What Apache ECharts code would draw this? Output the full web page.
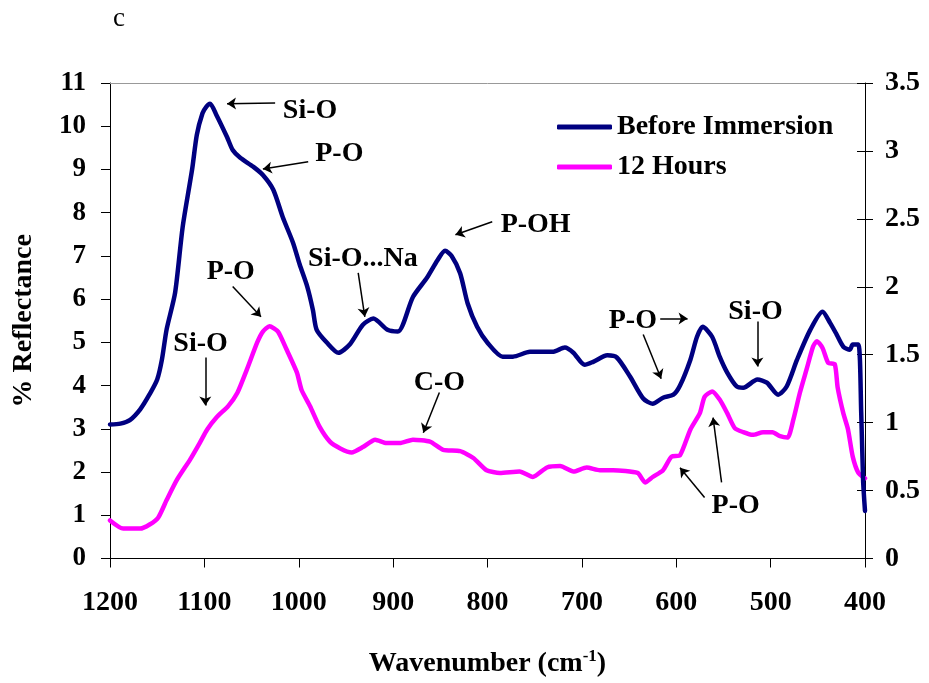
<!DOCTYPE html>
<html>
<head>
<meta charset="utf-8">
<script src="https://cdn.jsdelivr.net/npm/echarts@6/dist/echarts.min.js"></script>
<style>
  html, body { margin: 0; padding: 0; background: #fff; }
  #chart { width: 929px; height: 683px; }
</style>
</head>
<body>
<div id="chart"></div>
<script>
// FTIR reflectance spectra, wavenumber in cm-1
const wnBefore = [1200, 1189, 1179, 1168, 1158, 1150, 1145, 1140, 1131, 1123, 1113, 1108, 1102, 1098, 1094,
  1087, 1076, 1070, 1062, 1048, 1038, 1027, 1017, 1006, 999, 991, 985, 981, 970, 958, 946, 932, 921, 906, 895,
  879, 864, 853, 845, 838, 829, 821, 811, 800, 784, 773, 755, 731, 718, 709, 697, 688, 673, 663, 649, 635, 625,
  614, 603, 596, 585, 578, 572, 562, 554, 546, 536, 529, 514, 504, 492, 483, 472, 458, 445, 437, 430, 423, 416,
  413, 407, 404, 402, 400];
const before = [3.10, 3.12, 3.20, 3.45, 3.80, 4.14, 4.60, 5.30, 6.15, 7.67, 9.00, 9.80, 10.30, 10.45, 10.52,
  10.25, 9.75, 9.45, 9.27, 9.06, 8.87, 8.53, 7.90, 7.30, 6.80, 6.29, 5.75, 5.29, 4.99, 4.76, 4.95, 5.41, 5.55,
  5.29, 5.25, 6.05, 6.50, 6.90, 7.12, 7.00, 6.60, 5.90, 5.36, 4.99, 4.67, 4.67, 4.78, 4.78, 4.88, 4.76, 4.48,
  4.55, 4.70, 4.65, 4.21, 3.70, 3.58, 3.72, 3.79, 4.00, 4.60, 5.13, 5.36, 5.13, 4.67, 4.30, 3.98, 3.95, 4.14,
  4.07, 3.79, 3.98, 4.60, 5.29, 5.71, 5.45, 5.18, 4.90, 4.83, 4.95, 4.95, 3.37, 1.80, 1.10];

const wn12h = [1200, 1186, 1168, 1158, 1149, 1140, 1129, 1115, 1105, 1097, 1087, 1075, 1065, 1055, 1044, 1038,
  1031, 1022, 1013, 1002, 997, 988, 978, 967, 956, 944, 932, 919, 907, 893, 879, 861, 847, 829, 815, 801, 787,
  766, 752, 737, 723, 709, 695, 681, 667, 641, 633, 625, 614, 605, 596, 585, 575, 570, 562, 554, 546, 538, 529,
  519, 508, 498, 490, 482, 476, 469, 462, 455, 451, 445, 439, 432, 429, 423, 418, 413, 407, 400];
const hours12 = [0.28, 0.22, 0.22, 0.25, 0.30, 0.43, 0.58, 0.73, 0.85, 0.95, 1.04, 1.12, 1.22, 1.39, 1.59, 1.67,
  1.71, 1.67, 1.54, 1.37, 1.24, 1.12, 0.97, 0.86, 0.81, 0.78, 0.82, 0.875, 0.85, 0.85, 0.875, 0.86, 0.80, 0.79,
  0.74, 0.65, 0.63, 0.64, 0.60, 0.67, 0.68, 0.64, 0.67, 0.65, 0.65, 0.63, 0.56, 0.60, 0.65, 0.75, 0.76, 0.95,
  1.07, 1.19, 1.23, 1.17, 1.07, 0.96, 0.93, 0.91, 0.93, 0.93, 0.90, 0.89, 1.02, 1.22, 1.39, 1.56, 1.60, 1.55,
  1.44, 1.43, 1.26, 1.07, 0.95, 0.75, 0.63, 0.59];

const seriesNames = ['Before Immersion', '12 Hours'];

// Band assignments: label text and its anchor (wavenumber, % reflectance)
const bandLabels = [
  ['Si-O', 988, 10.35],
  ['P-O', 957, 9.36],
  ['Si-O...Na', 932, 6.93],
  ['P-O', 1072, 6.63],
  ['Si-O', 1104, 4.97],
  ['P-OH', 749, 7.72],
  ['C-O', 851, 4.07],
  ['P-O', 646, 5.50],
  ['Si-O', 516, 5.71],
  ['P-O', 537, 1.22]
];
// Arrows: [from wn, from value, to wn, to value]
const bandArrows = [
  [1025, 10.54, 1076, 10.52],
  [990, 9.18, 1038, 9.01],
  [937, 6.61, 930, 5.59],
  [1070, 6.29, 1040, 5.59],
  [1099, 4.65, 1099, 3.54],
  [795, 7.79, 834, 7.49],
  [851, 3.84, 868, 2.91],
  [617, 5.55, 588, 5.55],
  [635, 5.18, 616, 4.16],
  [514, 5.48, 514, 4.44],
  [552, 1.76, 561, 3.26],
  [570, 1.41, 596, 2.10]
];

const serif = "'Liberation Serif', 'Times New Roman', serif";

const chart = echarts.init(document.getElementById('chart'), null, { renderer: 'canvas' });

chart.setOption({
  animation: false,
  backgroundColor: '#ffffff',
  title: {
    text: 'c',
    left: 108,
    top: 0,
    textStyle: { fontFamily: serif, fontWeight: 'normal', fontSize: 27, color: '#000' }
  },
  grid: { left: 110, right: 64, top: 83, bottom: 124, containLabel: false },
  legend: {
    data: seriesNames,
    orient: 'vertical',
    left: 552,
    top: 108,
    itemWidth: 55,
    itemHeight: 5,
    itemGap: 12,
    icon: 'roundRect',
    textStyle: { fontFamily: serif, fontWeight: 'bold', fontSize: 28, color: '#000', lineHeight: 28 }
  },
  xAxis: [
    {
      type: 'value',
      inverse: true,
      min: 400,
      max: 1200,
      interval: 100,
      position: 'bottom',
      name: '{t|Wavenumber (cm}{s|-1}{t|)}',
      nameLocation: 'middle',
      nameGap: 90,
      nameTextStyle: {
        rich: {
          t: { fontFamily: serif, fontWeight: 'bold', fontSize: 28, color: '#000' },
          s: { fontFamily: serif, fontWeight: 'bold', fontSize: 17, color: '#000', padding: [0, 0, 14, 0] }
        }
      },
      axisLine: { show: true, onZero: false, lineStyle: { color: '#000', width: 1 } },
      axisTick: { show: true, inside: false, length: 9, lineStyle: { color: '#000' } },
      axisLabel: {
        margin: 30, fontFamily: serif, fontWeight: 'bold', fontSize: 28, color: '#000',
        formatter: v => String(v)
      },
      splitLine: { show: false }
    },
    {
      type: 'value',
      inverse: true,
      min: 400,
      max: 1200,
      position: 'top',
      axisLine: { show: true, onZero: false, lineStyle: { color: '#999', width: 1 } },
      axisTick: { show: false },
      axisLabel: { show: false },
      splitLine: { show: false }
    }
  ],
  yAxis: [
    {
      type: 'value',
      min: 0,
      max: 11,
      interval: 1,
      position: 'left',
      name: '% Reflectance',
      nameLocation: 'middle',
      nameGap: 72,
      nameRotate: 90,
      nameTextStyle: { fontFamily: serif, fontWeight: 'bold', fontSize: 28, color: '#000' },
      axisLine: { show: true, onZero: false, lineStyle: { color: '#000', width: 1 } },
      axisTick: { show: true, inside: false, length: 9, lineStyle: { color: '#000' } },
      axisLabel: { margin: 24, fontFamily: serif, fontWeight: 'bold', fontSize: 27, color: '#000' },
      splitLine: { show: false }
    },
    {
      type: 'value',
      min: 0,
      max: 3.5,
      interval: 0.5,
      position: 'right',
      axisLine: { show: true, onZero: false, lineStyle: { color: '#000', width: 1 } },
      axisTick: { show: true, inside: false, length: 8, lineStyle: { color: '#000' } },
      axisLabel: { margin: 20, fontFamily: serif, fontWeight: 'bold', fontSize: 28, color: '#000' },
      splitLine: { show: false }
    },
    {
      // inner half of the crossing ticks on the secondary axis
      type: 'value',
      min: 0,
      max: 3.5,
      interval: 0.5,
      position: 'right',
      axisLine: { show: false },
      axisTick: { show: true, inside: true, length: 8, lineStyle: { color: '#000' } },
      axisLabel: { show: false },
      splitLine: { show: false }
    }
  ],
  series: [
    {
      name: seriesNames[0],
      type: 'line',
      xAxisIndex: 0,
      yAxisIndex: 0,
      data: wnBefore.map((w, i) => [w, before[i]]),
      showSymbol: false,
      smooth: 0.25,
      lineStyle: { color: '#000080', width: 4.5, cap: 'round', join: 'round' },
      itemStyle: { color: '#000080' },
      z: 3
    },
    {
      name: seriesNames[1],
      type: 'line',
      xAxisIndex: 0,
      yAxisIndex: 1,
      data: wn12h.map((w, i) => [w, hours12[i]]),
      showSymbol: false,
      smooth: 0.2,
      lineStyle: { color: '#FF00FF', width: 4.5, cap: 'round', join: 'round' },
      itemStyle: { color: '#FF00FF' },
      z: 2
    },
    {
      name: 'bands',
      type: 'scatter',
      xAxisIndex: 0,
      yAxisIndex: 0,
      symbol: 'circle',
      symbolSize: 1,
      itemStyle: { color: '#ffffff', opacity: 1 },
      silent: true,
      data: bandLabels.map(b => ({ name: b[0], value: [b[1], b[2]] })),
      label: {
        show: true,
        position: 'inside',
        formatter: p => p.name,
        fontFamily: serif,
        fontWeight: 'bold',
        fontSize: 28,
        color: '#000000',
        textBorderColor: '#000000',
        textBorderWidth: 0
      },
      markLine: {
        silent: true,
        symbol: ['none', 'arrow'],
        symbolSize: 9,
        label: { show: false },
        lineStyle: { color: '#000', width: 1.5, type: 'solid', opacity: 1 },
        data: bandArrows.map(a => [{ coord: [a[0], a[1]] }, { coord: [a[2], a[3]] }])
      },
      z: 4
    }
  ]
});
</script>
</body>
</html>
